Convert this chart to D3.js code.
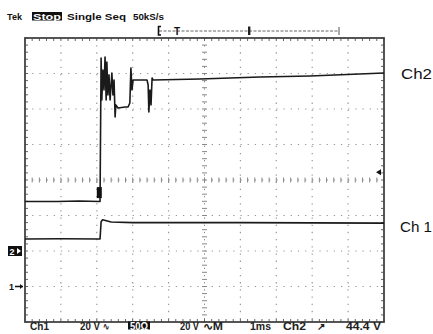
<!DOCTYPE html>
<html>
<head>
<meta charset="utf-8">
<script src="https://cdn.jsdelivr.net/npm/d3@7/dist/d3.min.js"></script>
<style>
  html, body { margin: 0; padding: 0; background: #fff; }
  svg { display: block; }
  text { font-family: "Liberation Sans", Arial, sans-serif; fill: #111; }
</style>
</head>
<body>
<svg id="scope" width="433" height="334"></svg>
<script>
// Acquisition time (ms) and probe voltage (V) for each channel
const ch2Time  = [0, 0.9, 1.5, 2.09, 2.12, 2.14, 2.17, 2.20, 2.23, 2.26, 2.28, 2.31, 2.34, 2.37, 2.42, 2.45, 2.48, 2.51, 2.53, 2.59, 2.79, 2.87, 2.92, 2.95, 2.98, 3.01, 3.06, 3.40, 3.43, 3.45, 3.48, 3.51, 3.54, 3.57, 4.87, 6.55, 7.94, 10];
const ch2Volts = [27.9, 27.9, 28.2, 27.9, 108.7, 85.1, 102.0, 90.7, 109.3, 85.1, 106.5, 87.9, 99.2, 85.1, 100.3, 87.9, 96.3, 75.5, 82.3, 80.6, 81.1, 81.1, 83.4, 103.1, 90.7, 96.3, 96.3, 96.3, 93.5, 78.3, 90.7, 82.3, 97.5, 96.3, 96.9, 98.0, 98.6, 100.3];
const ch1Time  = [0, 1.0, 2.09, 2.12, 2.16, 2.4, 3.0, 6.0, 10];
const ch1Volts = [26.8, 26.9, 26.8, 36.5, 37.6, 36.3, 36.0, 36.0, 35.7];

// Vertical settings: volts per division and ground-marker position (divisions from centre)
const voltsPerDiv = [20, 20];
const groundDiv   = [-3, -2];
const triggerLevel = 44.4;

// Screen texts
const headerLabels = ["Tek", "Stop", "Single Seq", "50kS/s"];
const footerLabels = ["Ch1", "20 V", "\u223F", "50\u03A9", "20 V", "\u223FM", "1ms", "Ch2", "\u2197", "44.4 V"];
const traceNames   = ["Ch2", "Ch 1"];

const svg = d3.select("#scope");
const x = d3.scaleLinear().domain([0, 10]).range([25, 384]);
const y = d3.scaleLinear().domain([-4, 4]).range([322, 38]);
const minor = (x(1) - x(0)) / 5;

// Graticule
const grid = svg.append("g");
x.ticks(10).slice(1, -1).forEach(t => {
  if (t === 5) return;
  grid.append("line").attr("x1", x(t)).attr("x2", x(t)).attr("y1", y(4)).attr("y2", y(-4))
    .attr("stroke", "#999").attr("stroke-width", 1.2).attr("stroke-dasharray", `1.3 ${minor - 1.3}`);
});
y.ticks(8).slice(1, -1).forEach(v => {
  if (v === 0) return;
  grid.append("line").attr("x1", x(0)).attr("x2", x(10)).attr("y1", y(v)).attr("y2", y(v))
    .attr("stroke", "#999").attr("stroke-width", 1.2).attr("stroke-dasharray", `1.3 ${minor - 1.3}`);
});
// Centre cross-hair with minor ticks
grid.append("line").attr("x1", x(5)).attr("x2", x(5)).attr("y1", y(4)).attr("y2", y(-4))
  .attr("stroke", "#888").attr("stroke-width", 1).attr("stroke-dasharray", `1.3 ${minor - 1.3}`);
grid.append("line").attr("x1", x(0)).attr("x2", x(10)).attr("y1", y(0)).attr("y2", y(0))
  .attr("stroke", "#888").attr("stroke-width", 1).attr("stroke-dasharray", `1.3 ${minor - 1.3}`);
const xMinor = d3.range(0, 10.001, 0.2);
const yMinor = d3.range(-4, 4.001, 0.2);
grid.selectAll(".hx").data(xMinor).join("line")
  .attr("x1", d => x(d)).attr("x2", d => x(d)).attr("y1", y(0) - 2.5).attr("y2", y(0) + 2.5)
  .attr("stroke", "#888").attr("stroke-width", 1);
grid.selectAll(".vy").data(yMinor).join("line")
  .attr("x1", x(5) - 2.5).attr("x2", x(5) + 2.5).attr("y1", d => y(d)).attr("y2", d => y(d))
  .attr("stroke", "#888").attr("stroke-width", 1);
// Edge ticks along the frame
grid.selectAll(".tt").data(xMinor).join("line")
  .attr("x1", d => x(d)).attr("x2", d => x(d)).attr("y1", y(4)).attr("y2", y(4) + 3)
  .attr("stroke", "#666").attr("stroke-width", 1);
grid.selectAll(".bt").data(xMinor).join("line")
  .attr("x1", d => x(d)).attr("x2", d => x(d)).attr("y1", y(-4)).attr("y2", y(-4) - 3)
  .attr("stroke", "#666").attr("stroke-width", 1);
grid.selectAll(".lt").data(yMinor).join("line")
  .attr("x1", x(0)).attr("x2", x(0) + 3).attr("y1", d => y(d)).attr("y2", d => y(d))
  .attr("stroke", "#666").attr("stroke-width", 1);
grid.selectAll(".rt").data(yMinor).join("line")
  .attr("x1", x(10)).attr("x2", x(10) - 3).attr("y1", d => y(d)).attr("y2", d => y(d))
  .attr("stroke", "#666").attr("stroke-width", 1);

// Frame
svg.append("rect").attr("x", x(0)).attr("y", y(4)).attr("width", x(10) - x(0)).attr("height", y(-4) - y(4))
  .attr("fill", "none").attr("stroke", "#444").attr("stroke-width", 1.8);

// Traces
const trace = (times, volts, ch) => d3.line()
  .x((d, i) => x(times[i]))
  .y((d, i) => y(groundDiv[ch] + volts[i] / voltsPerDiv[ch]));
svg.append("path").attr("d", trace(ch1Time, ch1Volts, 0)(ch1Volts))
  .attr("fill", "none").attr("stroke", "#1a1a1a").attr("stroke-width", 1.6).attr("stroke-linejoin", "round");
svg.append("path").attr("d", trace(ch2Time, ch2Volts, 1)(ch2Volts))
  .attr("fill", "none").attr("stroke", "#1a1a1a").attr("stroke-width", 1.6).attr("stroke-linejoin", "round");

// Trigger point cursor on the Ch2 edge
svg.append("rect").attr("x", x(2.0)).attr("y", y(-0.2)).attr("width", 5).attr("height", 11).attr("fill", "#111");

// Trigger level indicator on the right
const trigY = y(groundDiv[1] + triggerLevel / voltsPerDiv[1]);
svg.append("path").attr("d", `M${x(10) - 8},${trigY} l5,-3 l0,6 z`).attr("fill", "#111");

// Ground markers
const g1 = y(groundDiv[0]);
svg.append("text").attr("x", 9).attr("y", g1 + 3.5).attr("font-size", 9).attr("font-weight", "bold").text("1");
svg.append("line").attr("x1", 15).attr("x2", 23).attr("y1", g1).attr("y2", g1).attr("stroke", "#111").attr("stroke-width", 1.5);
svg.append("path").attr("d", `M23,${g1} l-3,-2.5 l0,5 z`).attr("fill", "#111");
const g2 = y(groundDiv[1]);
svg.append("rect").attr("x", 8).attr("y", g2 - 5).attr("width", 14).attr("height", 10).attr("fill", "#111");
svg.append("text").attr("x", 9.5).attr("y", g2 + 3.5).attr("font-size", 9).attr("font-weight", "bold")
  .style("fill", "#fff").text("2");
svg.append("path").attr("d", `M21,${g2} l-4,-3 l0,6 z`).attr("fill", "#fff");

// Header line
svg.append("rect").attr("x", 32).attr("y", 12).attr("width", 30).attr("height", 8.5).attr("fill", "#111");
const hdr = svg.append("g").attr("font-size", 9.5).attr("font-weight", "bold");
const hdrPos = [[7, 15], [33, 28], [67, 59], [133, 31]];
headerLabels.forEach((s, i) => {
  hdr.append("text").attr("x", hdrPos[i][0]).attr("y", 19.5).attr("textLength", hdrPos[i][1])
    .attr("lengthAdjust", "spacingAndGlyphs").style("fill", i === 1 ? "#fff" : "#111").text(s);
});

// Record / trigger position bar
svg.append("line").attr("x1", 159).attr("x2", 339).attr("y1", 31).attr("y2", 31)
  .attr("stroke", "#666").attr("stroke-width", 1).attr("stroke-dasharray", "3 1.5");
svg.append("path").attr("d", "M161,26.5 L158.5,26.5 L158.5,35 L161,35").attr("fill", "none").attr("stroke", "#111").attr("stroke-width", 1.6);
svg.append("text").attr("x", 174).attr("y", 34.5).attr("font-size", 10).attr("font-weight", "bold").style("fill", "#111").text("T");
svg.append("rect").attr("x", 248).attr("y", 26.5).attr("width", 2.4).attr("height", 8.5).attr("fill", "#222");
svg.append("line").attr("x1", 339).attr("x2", 339).attr("y1", 27).attr("y2", 35).attr("stroke", "#555").attr("stroke-width", 1);

// Footer line
svg.append("rect").attr("x", 128).attr("y", 321.5).attr("width", 22).attr("height", 8).attr("fill", "#111");
const ftr = svg.append("g").attr("font-size", 10).attr("font-weight", "bold");
const ftrPos = [[30, 19], [80, 20], [103, 6], [130, 18], [180, 19], [203, 20], [250, 21], [283, 23], [317, 8], [346, 35]];
footerLabels.forEach((s, i) => {
  ftr.append("text").attr("x", ftrPos[i][0]).attr("y", 330).attr("textLength", ftrPos[i][1])
    .attr("lengthAdjust", "spacingAndGlyphs").style("fill", i === 3 ? "#fff" : "#222").text(s);
});

// Channel names
svg.append("text").attr("x", 401).attr("y", 78.5).attr("font-size", 15).attr("textLength", 31)
  .attr("lengthAdjust", "spacingAndGlyphs").text(traceNames[0]);
svg.append("text").attr("x", 400).attr("y", 232).attr("font-size", 15).attr("textLength", 32)
  .attr("lengthAdjust", "spacingAndGlyphs").text(traceNames[1]);
</script>
</body>
</html>
